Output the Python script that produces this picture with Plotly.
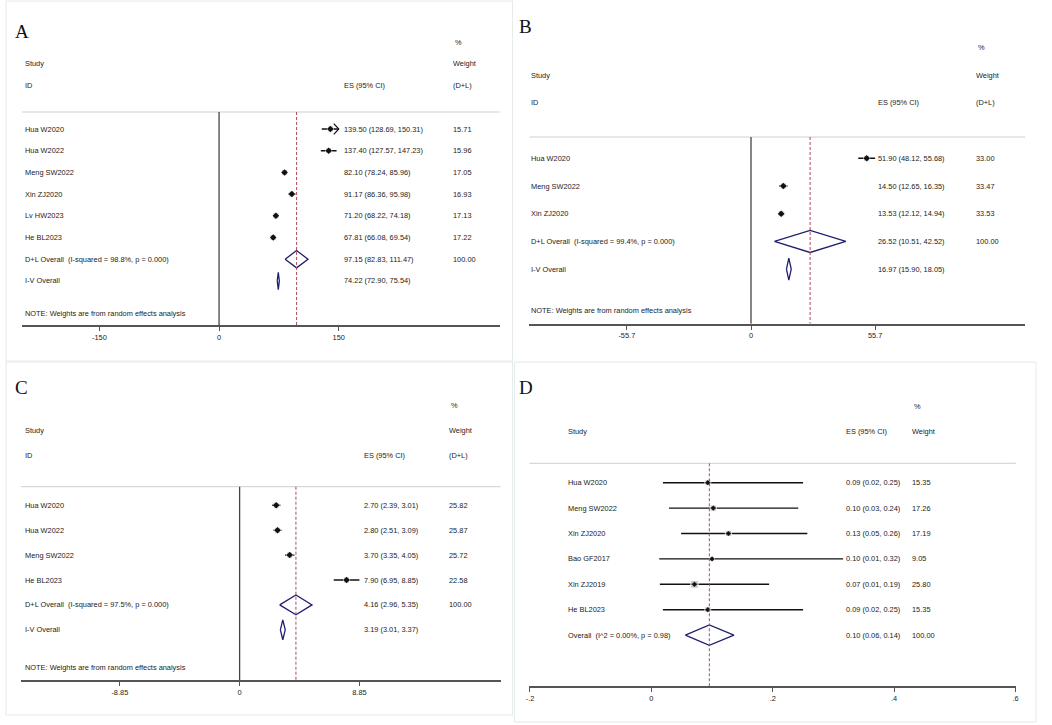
import plotly.graph_objects as go

W, H = 1052, 725

# ---- panel A: D+L random effects, 6 studies
a_study = ["Hua W2020", "Hua W2022", "Meng SW2022", "Xin ZJ2020", "Lv HW2023", "He BL2023"]
a_es = [139.50, 137.40, 82.10, 91.17, 71.20, 67.81]
a_lo = [128.69, 127.57, 78.24, 86.36, 68.22, 66.08]
a_hi = [150.31, 147.23, 85.96, 95.98, 74.18, 69.54]
a_wt = [15.71, 15.96, 17.05, 16.93, 17.13, 17.22]
a_dl = [97.15, 82.83, 111.47]
a_iv = [74.22, 72.90, 75.54]
a_het = "I-squared = 98.8%, p = 0.000"
a_ticks = [-150, 0, 150]

# ---- panel B
b_study = ["Hua W2020", "Meng SW2022", "Xin ZJ2020"]
b_es = [51.90, 14.50, 13.53]
b_lo = [48.12, 12.65, 12.12]
b_hi = [55.68, 16.35, 14.94]
b_wt = [33.00, 33.47, 33.53]
b_dl = [26.52, 10.51, 42.52]
b_iv = [16.97, 15.90, 18.05]
b_het = "I-squared = 99.4%, p = 0.000"
b_ticks = [-55.7, 0, 55.7]

# ---- panel C
c_study = ["Hua W2020", "Hua W2022", "Meng SW2022", "He BL2023"]
c_es = [2.70, 2.80, 3.70, 7.90]
c_lo = [2.39, 2.51, 3.35, 6.95]
c_hi = [3.01, 3.09, 4.05, 8.85]
c_wt = [25.82, 25.87, 25.72, 22.58]
c_dl = [4.16, 2.96, 5.35]
c_iv = [3.19, 3.01, 3.37]
c_het = "I-squared = 97.5%, p = 0.000"
c_ticks = [-8.85, 0, 8.85]

# ---- panel D: proportions
d_study = ["Hua W2020", "Meng SW2022", "Xin ZJ2020", "Bao GF2017", "Xin ZJ2019", "He BL2023"]
d_es = [0.093, 0.102, 0.127, 0.100, 0.071, 0.093]
d_lo = [0.019, 0.029, 0.049, 0.013, 0.014, 0.019]
d_hi = [0.250, 0.242, 0.257, 0.316, 0.194, 0.250]
d_wt = [15.35, 17.26, 17.19, 9.05, 25.80, 15.35]
d_overall = [0.0955, 0.056, 0.136]
d_het = "I^2 = 0.00%, p = 0.98"
d_ticks = [-0.2, 0, 0.2, 0.4, 0.6]
d_ticktext = ["-.2", "0", ".2", ".4", ".6"]

# pixel geometry of each panel (layout only)
geo = {
    1: dict(zero=216.5, ppu=120.5 / 150, left=18, right=499, row0=129, sp=21.7,
            axis=325, sep=112, cols=(20, 341, 451), top=-4.6, tag=("A", 10, 31)),
    2: dict(zero=752, ppu=125 / 55.7, left=529, right=1028, row0=158.3, sp=27.7,
            axis=323.7, sep=137, cols=(530, 879, 978), top=-4.6, tag=("B", 517, 26)),
    3: dict(zero=237.2, ppu=120.6 / 8.85, left=17, right=500, row0=505.3, sp=24.9,
            axis=680, sep=486.7, cols=(20, 361, 447), top=-4.6, tag=("C", 10, 387)),
    4: dict(zero=651.7, ppu=611, left=529, right=1018.6, row0=482.7, sp=25.4,
            axis=686, sep=463.3, cols=(567, 847, 913), top=-3.6, tag=("D", 517, 387)),
}

TXT = dict(family="Liberation Sans, Arial", size=7.4, color="#222")
NAVY = "#1f1f6e"
RED = "#b04858"

fig = go.Figure()
annos = []
shapes = []


def axname(n):
    return ("x", "y") if n == 1 else (f"x{n}", f"y{n}")


def note(n, col, row, text):
    annos.append(dict(x=col / W, xref="paper", y=row, yref=axname(n)[1], text=text,
                      showarrow=False, xanchor="left", yanchor="middle", font=TXT,
                      borderpad=0))


def diamond(n, row, est):
    es, lo, hi = est
    xa, ya = axname(n)
    fig.add_trace(go.Scatter(
        x=[lo, es, hi, es, lo], y=[row, row - 0.4, row, row + 0.4, row],
        mode="lines", line=dict(color=NAVY, width=1.3),
        xaxis=xa, yaxis=ya, hoverinfo="skip", showlegend=False))


def forest(n, study, es, lo, hi, wt, ticks, ticktext, pooled, box_sizes, dot,
           zero_line=True, id_row=True, note_row=True):
    g = geo[n]
    xr = [(g["left"] - g["zero"]) / g["ppu"], (g["right"] - g["zero"]) / g["ppu"]]
    axis_row = (g["axis"] - g["row0"]) / g["sp"]
    sep_row = (g["sep"] - g["row0"]) / g["sp"]
    top_px = g["row0"] + g["sp"] * g["top"]
    xa, ya = axname(n)
    suffix = "" if n == 1 else str(n)

    fig.layout["xaxis" + suffix] = dict(
        domain=[g["left"] / W, g["right"] / W], range=xr, anchor=ya,
        tickvals=ticks, ticktext=ticktext, ticks="outside", ticklen=4,
        tickcolor="#555", tickwidth=1, showline=True, linecolor="#555", linewidth=1.6,
        showgrid=False, zeroline=False, tickfont=TXT, fixedrange=True)
    fig.layout["yaxis" + suffix] = dict(
        domain=[1 - g["axis"] / H, 1 - top_px / H], range=[axis_row, g["top"]],
        anchor=xa, visible=False, fixedrange=True)

    # separator under the header
    shapes.append(dict(type="line", xref=f"{xa} domain", x0=0, x1=1, yref=ya,
                       y0=sep_row, y1=sep_row, line=dict(color="#cfcfcf", width=1)))
    if zero_line:
        shapes.append(dict(type="line", xref=xa, x0=0, x1=0, yref=ya, y0=sep_row,
                           y1=axis_row, line=dict(color="#444", width=1.3)))
    ref = pooled[0][1][0]
    shapes.append(dict(type="line", xref=xa, x0=ref, x1=ref, yref=ya, y0=sep_row,
                       y1=axis_row, line=dict(color=RED, width=1, dash="3px,2px")))

    rows = list(range(len(study)))
    cmin, cmax = min(ticks), max(ticks)
    clo = [max(v, cmin) for v in lo]
    chi = [min(v, cmax) for v in hi]
    cx, cy = [], []
    for r, a, b in zip(rows, clo, chi):
        cx += [a, b, None]
        cy += [r, r, None]
    fig.add_trace(go.Scatter(x=cx, y=cy, mode="lines", line=dict(color="#111", width=1.4),
                             xaxis=xa, yaxis=ya, hoverinfo="skip", showlegend=False))
    # arrows where the CI runs past the labelled range
    ax_, ay_ = [], []
    dx = 5 / g["ppu"]
    for r, b, h in zip(rows, chi, hi):
        if h > cmax:
            ax_ += [b - dx, b, b - dx, None]
            ay_ += [r - 0.25, r, r + 0.25, None]
    if ax_:
        fig.add_trace(go.Scatter(x=ax_, y=ay_, mode="lines", line=dict(color="#111", width=1.2),
                                 xaxis=xa, yaxis=ya, hoverinfo="skip", showlegend=False))
    fig.add_trace(go.Scatter(x=es, y=rows, mode="markers",
                             marker=dict(symbol="square", size=box_sizes, color="#adadad"),
                             xaxis=xa, yaxis=ya, hoverinfo="skip", showlegend=False))
    fig.add_trace(go.Scatter(x=es, y=rows, mode="markers",
                             marker=dict(symbol="diamond", size=dot, color="#111"),
                             xaxis=xa, yaxis=ya, hoverinfo="skip", showlegend=False))

    c1, c2, c3 = g["cols"]
    if id_row:
        note(n, c3 + 2, -4, "%")
        note(n, c1, -3, "Study")
        note(n, c3, -3, "Weight")
        note(n, c1, -2, "ID")
        note(n, c2, -2, "ES (95% CI)")
        note(n, c3, -2, "(D+L)")
    else:
        note(n, c3 + 2, -3, "%")
        note(n, c1, -2, "Study")
        note(n, c2, -2, "ES (95% CI)")
        note(n, c3, -2, "Weight")

    for r, s, e, a, b, w in zip(rows, study, es, lo, hi, wt):
        note(n, c1, r, s)
        note(n, c2, r, f"{e:.2f} ({a:.2f}, {b:.2f})")
        note(n, c3, r, f"{w:.2f}")

    r = len(study)
    for label, est, wlab in pooled:
        diamond(n, r, est)
        note(n, c1, r, label)
        note(n, c2, r, f"{est[0]:.2f} ({est[1]:.2f}, {est[2]:.2f})")
        if wlab:
            note(n, c3, r, wlab)
        r += 1
    if note_row:
        note(n, c1, r + 0.5, "NOTE: Weights are from random effects analysis")

    t, tx, ty = g["tag"]
    annos.append(dict(x=tx / W, xref="paper", y=1 - ty / H, yref="paper", text=t,
                      showarrow=False, xanchor="left", yanchor="middle", borderpad=0,
                      font=dict(family="Liberation Serif, Times New Roman", size=19, color="#111")))


sp = "\u00a0\u00a0"
forest(1, a_study, a_es, a_lo, a_hi, a_wt, a_ticks, [f"{t:g}" for t in a_ticks],
       [(f"D+L Overall{sp}({a_het})", a_dl, "100.00"), ("I-V Overall", a_iv, "")],
       [6] * len(a_study), 5)
forest(2, b_study, b_es, b_lo, b_hi, b_wt, b_ticks, [f"{t:g}" for t in b_ticks],
       [(f"D+L Overall{sp}({b_het})", b_dl, "100.00"), ("I-V Overall", b_iv, "")],
       [6] * len(b_study), 5)
forest(3, c_study, c_es, c_lo, c_hi, c_wt, c_ticks, [f"{t:g}" for t in c_ticks],
       [(f"D+L Overall{sp}({c_het})", c_dl, "100.00"), ("I-V Overall", c_iv, "")],
       [6] * len(c_study), 5)
forest(4, d_study, d_es, d_lo, d_hi, d_wt, d_ticks, d_ticktext,
       [(f"Overall{sp}({d_het})", d_overall, "100.00")],
       [1.5 * w ** 0.5 for w in d_wt], 4, zero_line=False, id_row=False, note_row=False)

# light frames around the panels
for x0, y0, x1, y1 in [(2, 1, 512, 361), (2, 362, 512, 715), (514, 362, 1039, 722)]:
    shapes.append(dict(type="rect", xref="paper", yref="paper", x0=x0 / W, x1=x1 / W,
                       y0=1 - y1 / H, y1=1 - y0 / H, line=dict(color="#e4eaea", width=1)))

fig.update_layout(width=W, height=H, margin=dict(l=0, r=0, t=0, b=0),
                  paper_bgcolor="white", plot_bgcolor="rgba(0,0,0,0)",
                  annotations=annos, shapes=shapes, showlegend=False)

# page body margin would push the fixed-size figure off its pixel grid
fig.write_html("out.html", config={"displayModeBar": False},
               post_script="document.body.style.margin='0px';")
